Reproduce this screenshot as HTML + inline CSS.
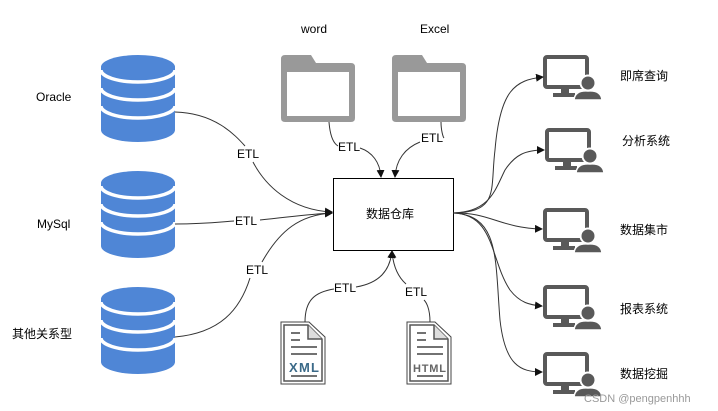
<!DOCTYPE html>
<html><head><meta charset="utf-8"><style>
body{margin:0;background:#fff;width:718px;height:411px;overflow:hidden}
svg{display:block}
text{font-family:"Liberation Sans","Noto Sans CJK SC",sans-serif;font-size:12px;fill:#000}
</style></head><body>
<svg width="718" height="411" viewBox="0 0 718 411">
<defs>
<g id="db">
<rect x="101" y="0" width="74" height="63" fill="#4f86d6"/>
<ellipse cx="138" cy="0" rx="37" ry="12" fill="#4f86d6"/>
<ellipse cx="138" cy="63" rx="37" ry="12" fill="#4f86d6"/>
<path d="M101,3 A37,12 0 0 0 175,3 M101,21 A37,12 0 0 0 175,21 M101,39 A37,12 0 0 0 175,39" fill="none" stroke="#fff" stroke-width="3.5"/>
</g>
<g id="mon">
<rect x="2" y="2" width="42" height="30" rx="2" fill="none" stroke="#595959" stroke-width="4"/>
<rect x="18" y="33" width="8" height="6" fill="#595959"/>
<rect x="10" y="38" width="22" height="4" fill="#595959"/>
<circle cx="45" cy="28" r="8.5" fill="#fff"/>
<circle cx="45" cy="28" r="6.5" fill="#595959"/>
<path d="M31,45 Q32,35 45,36 Q58,35 59,45 Z" fill="#595959" stroke="#fff" stroke-width="1.5"/>
</g>
<g id="fold">
<path d="M4,0 H30 L35,8 H70 Q74,8 74,12 V63 Q74,67 70,67 H4 Q0,67 0,63 V4 Q0,0 4,0 Z" fill="#999"/>
<rect x="6" y="17" width="62" height="44" fill="#fff"/>
</g>
<g id="doc">
<path d="M0,0 H28 L44,15 V62 H0 Z" fill="#fff" stroke="#444" stroke-width="1"/>
<path d="M3,3 H27 L41,17 V59 H3 Z" fill="#fff" stroke="#555" stroke-width="1.5"/>
<path d="M27,3 V17 H41" fill="#ddd" stroke="#555" stroke-width="1.5"/>
<path d="M10,11 H19 M10,18 H19 M10,25 H36 M10,32 H36 M10,54 H36" stroke="#444" stroke-width="1.5"/>
</g>
<marker id="ar" markerWidth="8" markerHeight="8" refX="7" refY="4" orient="auto" markerUnits="userSpaceOnUse"><path d="M0,0 L8,4 L0,8 Z" fill="#111"/></marker>
</defs>

<use href="#db" y="67"/>
<use href="#db" y="183"/>
<use href="#db" y="299"/>
<text x="36" y="101">Oracle</text>
<text x="37" y="228">MySql</text>
<text x="12" y="338">其他关系型</text>

<use href="#fold" x="281" y="55"/>
<use href="#fold" x="392" y="55"/>
<text x="301" y="33">word</text>
<text x="420" y="33">Excel</text>

<rect x="333.5" y="178.5" width="120" height="72" fill="#fff" stroke="#000"/>
<text x="366" y="218">数据仓库</text>

<use href="#doc" x="281" y="322"/>
<use href="#doc" x="407" y="322"/>
<text x="289" y="372" style="font-size:13px;font-weight:bold;fill:#3b6a88" textLength="30">XML</text>
<text x="413" y="372" style="font-size:11px;font-weight:bold;fill:#666" textLength="33">HTML</text>

<use href="#mon" x="543" y="55"/>
<use href="#mon" x="545" y="128"/>
<use href="#mon" x="543" y="208"/>
<use href="#mon" x="543" y="285"/>
<use href="#mon" x="543" y="352"/>
<text x="620" y="80">即席查询</text>
<text x="622" y="145">分析系统</text>
<text x="620" y="234">数据集市</text>
<text x="620" y="313">报表系统</text>
<text x="620" y="378">数据挖掘</text>

<g fill="none" stroke="#333" stroke-width="1">
<path d="M175,112 C215,113 235,135 245,146 M253,162 C265,185 290,210 332,212" marker-end="url(#ar)"/>
<path d="M175,224 C205,224 220,222 234,221 M260,220 C290,217 310,214 332,213" marker-end="url(#ar)"/>
<path d="M175,337 C220,333 240,310 250,278 M262,262 C280,230 300,215 332,213" marker-end="url(#ar)"/>
<path d="M329,122 C330,135 333,143 338,146 M360,148 C372,152 380,162 381,177" marker-end="url(#ar)"/>
<path d="M441,122 C441,130 443,137 444,138 M420,142 C405,148 396,160 395,177" marker-end="url(#ar)"/>
<path d="M305,322 C305,300 315,292 334,289 M356,287 C380,283 390,270 392,251" marker-end="url(#ar)"/>
<path d="M430,322 C430,308 426,302 424,300 M406,284 C397,276 393,265 392,251" marker-end="url(#ar)"/>
<path d="M453,213 C500,212 490,190 495,150 C500,90 515,80 543,77" marker-end="url(#ar)"/>
<path d="M453,213 C490,212 495,190 505,170 C515,155 525,150 544,150" marker-end="url(#ar)"/>
<path d="M453,213 C490,212 500,228 542,229" marker-end="url(#ar)"/>
<path d="M453,213 C495,214 490,260 510,290 C520,303 530,305 542,306" marker-end="url(#ar)"/>
<path d="M453,213 C500,215 495,260 500,320 C505,365 520,372 542,372" marker-end="url(#ar)"/>
</g>
<text x="237" y="158">ETL</text>
<text x="235" y="225">ETL</text>
<text x="246" y="274">ETL</text>
<text x="338" y="151">ETL</text>
<text x="421" y="142">ETL</text>
<text x="334" y="292">ETL</text>
<text x="405" y="296">ETL</text>
<text x="584" y="402" style="font-size:11px;fill:#999">CSDN @pengpenhhh</text>
</svg>
</body></html>
